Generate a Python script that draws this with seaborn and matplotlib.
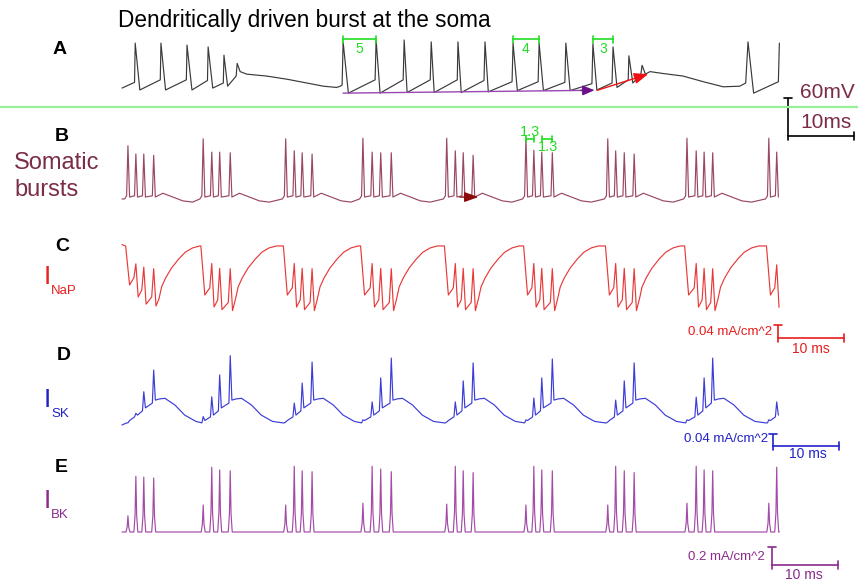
import numpy as np
import matplotlib
matplotlib.use("Agg")
import matplotlib.pyplot as plt
import seaborn as sns
from matplotlib.lines import Line2D

sns.set_theme(style="white")
plt.rcParams['font.family'] = ['Liberation Sans', 'DejaVu Sans']

# ------------------------------------------------------------------ data
# Panel A: somatic voltage (dendritically driven burst), vertices (ms, mV)
A_T = [0.0,
       1.9, 2.0, 2.7, 5.8, 5.9, 6.6, 9.75, 9.85, 10.6, 12.95, 13.05, 13.75,
       15.35, 15.45, 16.0, 17.3, 17.45, 17.9,
       18.9, 21.9, 25.0, 28.0, 30.5, 32.5, 33.1,
       33.35, 33.5, 34.3, 38.35, 38.5, 39.1, 42.6, 42.75, 43.2, 46.7, 46.85, 47.3,
       50.8, 50.9, 51.4, 54.85, 55.0, 55.5, 59.1, 59.25, 59.9, 63.05, 63.2, 63.85,
       67.1, 67.25, 67.9, 71.2, 71.35, 71.95, 74.25, 74.4, 75.0, 76.7, 76.8, 77.4,
       78.6, 78.8, 79.3,
       80.0, 82.0, 85.0, 88.1, 91.1, 93.6, 94.5,
       94.85, 95.7, 99.45, 99.6]
A_V = [-72,
       -63, -1, -75, -59, -1, -75, -59, -4, -75, -60, -7, -72,
       -64, -20, -69, -53, -33, -46,
       -50, -53, -58, -64, -69, -71, -69,
       -67, 1, -80, -59, 4, -80, -59, 4, -79, -59, 1, -79,
       -59, 1, -79, -60, 1, -78, -62, -1, -76, -62, -1, -76,
       -63, -1, -76, -65, -2, -75, -64, -7, -71, -59, -21, -64,
       -51, -36, -50,
       -46, -49, -53, -62, -70, -69, -64,
       1, -80, -62, -1]
A_ISI = [(33.5, 38.5, "5"), (59.2, 63.2, "4"), (71.4, 74.4, "3")]

# Spike times shared by panels B-E (ms), one list per burst
SPIKE_T = [[0.9, 2.1, 3.3, 4.8], [12.3, 13.6, 14.8, 16.4], [24.8, 26.1, 27.3, 28.8],
           [36.5, 37.9, 39.2, 40.8], [49.2, 50.5, 51.7, 53.2], [61.2, 62.4, 63.6, 65.2],
           [73.6, 74.8, 76.1, 77.6], [85.6, 87.0, 88.2, 89.5], [98.0, 99.2]]

# Panel B: somatic bursts (mV)
B_PEAK = [[19, 6, 6, 4], [30, 9, 9, 8], [30, 11, 8, 6], [31, 9, 8, 8], [31, 11, 8, 4],
          [31, 12, 9, 8], [30, 11, 8, 6], [31, 11, 9, 8], [31, 9]]
B_REST = -65
B_PRE = -60
B_TROUGH = -62
B_AFTER_DT = [1.4, 2.9, 4.4, 5.9]
B_AFTER_V = [-56, -62, -68, -70]
B_ISI = [(61.2, 62.4, 29.7, "1.3", 61.8, 41.0), (63.6, 65.2, 29.7, "1.3", 64.5, 16.5)]

# Panel C: I_NaP (mA/cm^2)
NAP_START = -0.052
NAP_PLATEAU = -0.056
NAP_DROP = [-0.176, -0.207, -0.207, -0.207, -0.207, -0.207, -0.207, -0.207, -0.207]
NAP_PEAK = [[-0.111, -0.121, -0.126]] + [[-0.110, -0.125, -0.126]] * 7 + [[-0.114]]
NAP_TROUGH = [[-0.213, -0.235, -0.241]] + [[-0.244, -0.252, -0.255]] * 7 + [[-0.245]]
NAP_RAMP = 0.022
NAP_REC_DT = [0.8, 1.2, 1.8, 2.7, 3.8, 4.8, 5.9, 7.0]
NAP_REC_V = [-0.219, -0.182, -0.155, -0.124, -0.096, -0.075, -0.062, -0.056]

# Panel D: I_SK (mA/cm^2)
SK_REST = 0.005
SK_PEAK = [[0.012, 0.044, 0.116, 0.188], [0.033, 0.099, 0.172, 0.236],
           [0.015, 0.078, 0.145, 0.215], [0.022, 0.082, 0.162, 0.228],
           [0.015, 0.082, 0.152, 0.212], [0.022, 0.095, 0.162, 0.225],
           [0.015, 0.088, 0.152, 0.212], [0.022, 0.098, 0.162, 0.228],
           [0.022, 0.082]]
SK_PRE = [0.012, 0.032, 0.052, 0.078]
SK_POST = [0.020, 0.038, 0.062, 0.088]
SK_HUMP_DT = [0.9, 1.7, 3.2, 4.7, 6.4, 8.0]
SK_HUMP_V = [0.092, 0.094, 0.072, 0.038, 0.017, 0.012]

# Panel E: I_BK (mA/cm^2)
BK_PEAK = [[0.18, 0.62, 0.61, 0.60], [0.30, 0.72, 0.69, 0.68], [0.30, 0.73, 0.68, 0.67],
           [0.32, 0.73, 0.70, 0.67], [0.31, 0.73, 0.68, 0.66], [0.30, 0.73, 0.69, 0.68],
           [0.30, 0.73, 0.68, 0.66], [0.32, 0.73, 0.69, 0.68], [0.32, 0.72]]
T_END = 99.6


# ------------------------------------------------------------------ trace builders
def build_B():
    t, v = [0.0], [B_REST]
    for k, (ts, ps) in enumerate(zip(SPIKE_T, B_PEAK)):
        t.append(ts[0] - 0.5); v.append(B_REST)
        for ti, pi in zip(ts, ps):
            t += [ti - 0.2, ti, ti + 0.25]; v += [B_PRE, pi, B_TROUGH]
        if k + 1 < len(SPIKE_T):
            nxt = SPIKE_T[k + 1][0]
            for dt, vv in zip(B_AFTER_DT, B_AFTER_V):
                if ts[-1] + dt < nxt - 0.6:
                    t.append(ts[-1] + dt); v.append(vv)
    return t, v


def build_C():
    t, v = [0.0], [NAP_START]
    for k, ts in enumerate(SPIKE_T):
        t.append(ts[0] - 0.35); v.append(NAP_PLATEAU)
        t.append(ts[0] + 0.25); v.append(NAP_DROP[k])
        prev = NAP_DROP[k]
        for ti, pk, tr in zip(ts[1:], NAP_PEAK[k], NAP_TROUGH[k]):
            t += [ti - 0.3, ti, ti + 0.35]; v += [prev + NAP_RAMP, pk, tr]
            prev = tr
        if k + 1 < len(SPIKE_T):
            nxt = SPIKE_T[k + 1][0]
            for dt, vv in zip(NAP_REC_DT, NAP_REC_V):
                if ts[-1] + dt < nxt - 0.4:
                    t.append(ts[-1] + dt); v.append(vv)
    return t, v


def build_D():
    t, v = [0.0], [SK_REST]
    for k, (ts, ps) in enumerate(zip(SPIKE_T, SK_PEAK)):
        for j, (ti, pi) in enumerate(zip(ts, ps)):
            t += [ti - 0.2, ti, ti + 0.25]; v += [SK_PRE[j], pi, SK_POST[j]]
        if k + 1 < len(SPIKE_T):
            nxt = SPIKE_T[k + 1][0]
            for dt, vv in zip(SK_HUMP_DT, SK_HUMP_V):
                if ts[-1] + dt < nxt - 0.3:
                    t.append(ts[-1] + dt); v.append(vv)
    return t, v


def build_E():
    t, v = [0.0], [0.0]
    for ts, ps in zip(SPIKE_T, BK_PEAK):
        for ti, pi in zip(ts, ps):
            t += [ti - 0.3, ti - 0.12, ti, ti + 0.12, ti + 0.3]
            v += [0.0, 0.3 * pi, pi, 0.3 * pi, 0.0]
    t.append(T_END); v.append(0.0)
    return t, v


# ------------------------------------------------------------------ layout
W, H = 858, 582
PX_PER_MS = 6.6
X0 = 122
fig = plt.figure(figsize=(W / 100, H / 100), dpi=100)
fig.patch.set_facecolor("white")


def make_ax(top, bot, c, k):
    ax = fig.add_axes([0, 1 - bot / H, 1, (bot - top) / H])
    ax.set_xlim(-X0 / PX_PER_MS, (W - X0) / PX_PER_MS)
    ax.set_ylim((c - bot) / k, (c - top) / k)
    ax.set_axis_off()
    return ax


axA = make_ax(0, 107, 42.5, 0.633)
axB = make_ax(107, 215, 157.8, 0.633)
axC = make_ax(215, 345, 227.75, 325)
axD = make_ax(345, 460, 426.5, 300)
axE = make_ax(460, 582, 532, 90)

LW = 0.85
C_A, C_B, C_C, C_D, C_E = "#3a3a3a", "#9a4862", "#e83a3a", "#3c3cd8", "#a44aa8"
GREEN = "#22dd22"


def trace(ax, t, v, color):
    sns.lineplot(x=np.asarray(t, float), y=np.asarray(v, float), ax=ax, color=color,
                 linewidth=LW, estimator=None, sort=False, legend=False)


trace(axA, A_T, A_V, C_A)
trace(axB, *build_B(), C_B)
trace(axC, *build_C(), C_C)
trace(axD, *build_D(), C_D)
trace(axE, *build_E(), C_E)

for ax in (axA, axB, axC, axD, axE):
    ax.set_axis_off()

# Panel A annotations
for t0, t1, lab in A_ISI:
    axA.plot([t0, t1], [5, 5], color=GREEN, lw=1.2, clip_on=False)
    for tt in (t0, t1):
        axA.plot([tt, tt], [0, 10], color=GREEN, lw=1.2, clip_on=False)
    axA.text((t0 + t1) / 2, -9.5, lab, color=GREEN, fontsize=10, ha="center", va="center")

axA.plot([33.5, 70.5], [-80, -75.6], color="#9a46b4", lw=1.0)
axA.annotate("", xy=(71.6, -75.4), xytext=(69.5, -75.7),
             arrowprops=dict(arrowstyle="-|>,head_length=0.6,head_width=0.25",
                             color="#6c108c", lw=1.0, shrinkA=0, shrinkB=0))
axA.annotate("", xy=(79.7, -50), xytext=(72.0, -75.5),
             arrowprops=dict(arrowstyle="-|>,head_length=0.7,head_width=0.28",
                             color="#ee1111", lw=1.0, shrinkA=0, shrinkB=0))

# Panel B annotations
for t0, t1, y, lab, tx, ty in B_ISI:
    axB.plot([t0, t1], [y, y], color=GREEN, lw=1.2, clip_on=False)
    for tt in (t0, t1):
        axB.plot([tt, tt], [y - 5.5, y + 5.5], color=GREEN, lw=1.2, clip_on=False)
    axB.text(tx, ty, lab, color=GREEN, fontsize=10.5, ha="center", va="center")
axB.annotate("", xy=(54.0, -62), xytext=(51.2, -62),
             arrowprops=dict(arrowstyle="-|>,head_length=0.7,head_width=0.25",
                             color="#8b0a0a", lw=1.0, shrinkA=0, shrinkB=0))


# scale bars
def scalebar(ax, x0, y0, dy, k, color, lw=1.2):
    dx = 10
    ax.plot([x0, x0], [y0, y0 + dy], color=color, lw=lw, clip_on=False, solid_capstyle="butt")
    ax.plot([x0 - 0.6, x0 + 0.6], [y0 + dy, y0 + dy], color=color, lw=lw, clip_on=False)
    ax.plot([x0, x0 + dx], [y0, y0], color=color, lw=lw, clip_on=False)
    ax.plot([x0 + dx, x0 + dx], [y0 - 4 / k, y0 + 4 / k], color=color, lw=lw, clip_on=False)
    ax.plot([x0, x0], [y0 - 4 / k, y0], color=color, lw=lw, clip_on=False)


scalebar(axB, 100.9, 34.4, 60, 0.633, "black")
scalebar(axC, 99.4, -0.339, 0.04, 325, "#e81c1c")
scalebar(axD, 98.6, -0.065, 0.04, 300, "#2222cc")
scalebar(axE, 98.5, -0.367, 0.2, 90, "#8a2a8a")

# separator
fig.add_artist(Line2D([0, 1], [1 - 107 / H] * 2, transform=fig.transFigure,
                      color="#99ee99", lw=1.6))


def ftext(x, y, s, **kw):
    fig.text(x / W, 1 - y / H, s, **kw)


MAROON = "#7b2c48"
ftext(118, 20, "Dendritically driven burst at the soma", fontsize=16.3, ha="left",
      va="center", color="black")
for lab, (x, y) in zip("ABCDE", [(60, 50), (62, 136), (62, 246), (64, 355), (61, 467)]):
    ftext(x, y, lab, fontsize=14, fontweight="bold", ha="center", va="center", color="black")

ftext(14, 163, "Somatic", fontsize=17, color=MAROON, ha="left", va="center")
ftext(14, 190, "bursts", fontsize=17, color=MAROON, ha="left", va="center")
ftext(827, 92, "60mV", fontsize=15, color=MAROON, ha="center", va="center")
ftext(826, 122, "10ms", fontsize=15, color=MAROON, ha="center", va="center")

for (x, y, sub, col) in [(47, 277, "NaP", "#e82020"), (47, 400, "SK", "#2020c8"),
                         (47, 501, "BK", "#8a2a8a")]:
    ftext(x, y, "I", fontsize=19, color=col, ha="center", va="center")
    ftext(51, y + 14, sub, fontsize=9.5, color=col, ha="left", va="center")

ftext(772, 332, "0.04 mA/cm^2", fontsize=9.5, color="#e81c1c", ha="right", va="center")
ftext(811, 349, "10 ms", fontsize=10, color="#e81c1c", ha="center", va="center")
ftext(768, 439, "0.04 mA/cm^2", fontsize=9.5, color="#2020c8", ha="right", va="center")
ftext(808, 454, "10 ms", fontsize=10, color="#2020c8", ha="center", va="center")
ftext(765, 557, "0.2 mA/cm^2", fontsize=9.5, color="#8a2a8a", ha="right", va="center")
ftext(804, 575, "10 ms", fontsize=10, color="#8a2a8a", ha="center", va="center")

fig.savefig("out.png", dpi=100, facecolor="white")
